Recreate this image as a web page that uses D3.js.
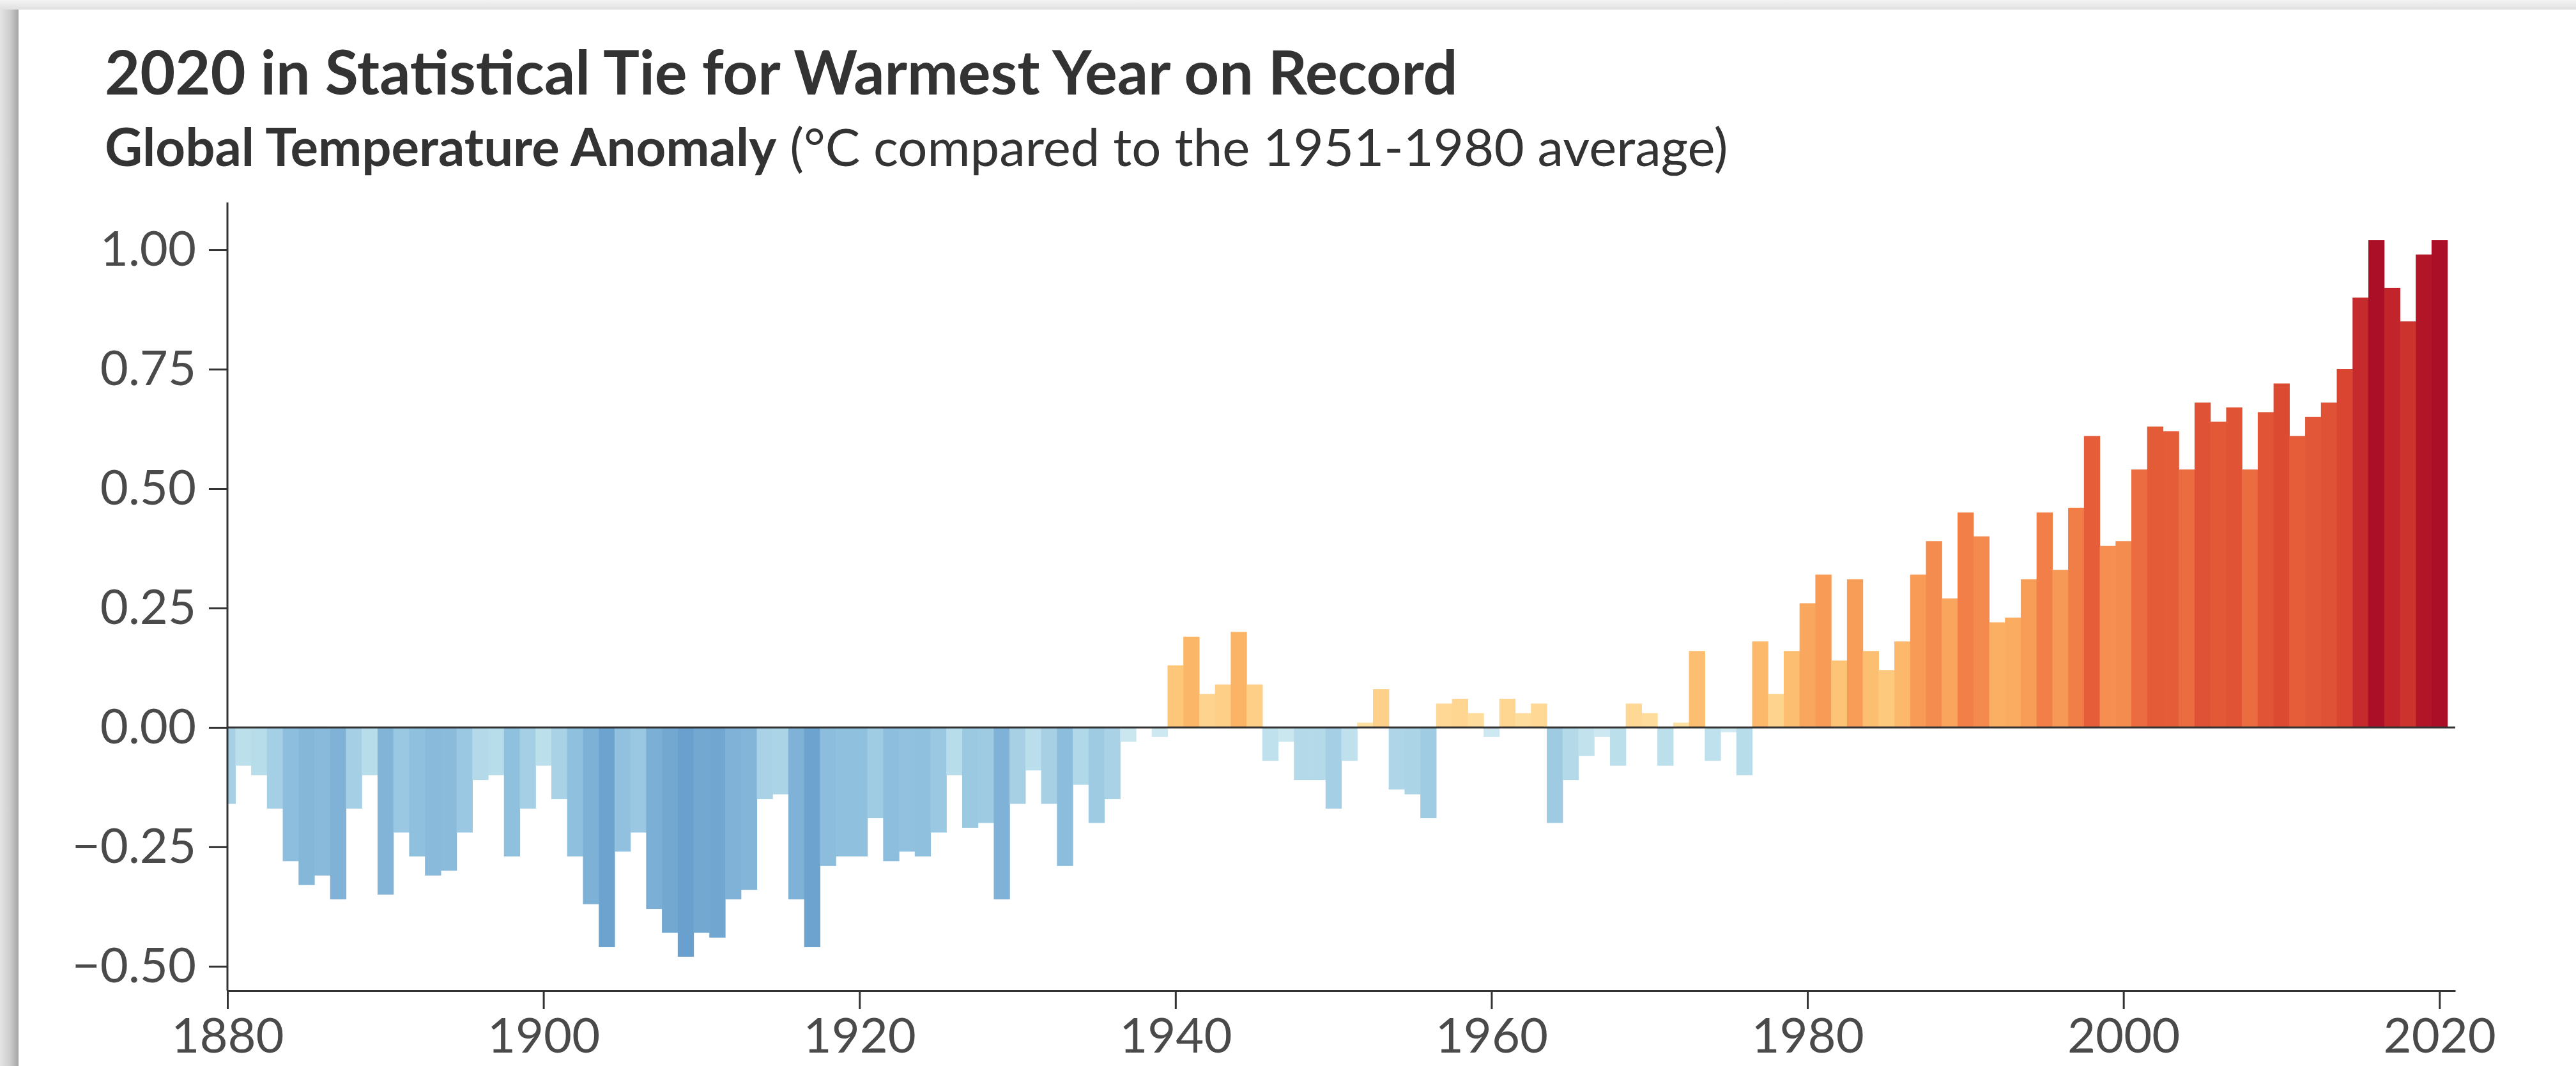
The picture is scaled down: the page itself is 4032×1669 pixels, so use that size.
<!DOCTYPE html>
<html>
<head>
<meta charset="utf-8">
<script src="https://cdn.jsdelivr.net/npm/d3@7"></script>
<style>
  html, body { margin: 0; padding: 0; background: #ffffff; }
  svg { display: block; }
</style>
</head>
<body>
<svg id="chart" width="4032" height="1669"></svg>
<script>
// ---------------- DATA ----------------
const firstYear = 1880;
// Global temperature anomaly (°C vs 1951-1980), one value per year 1880–2020
const anomalies = [
  -0.16, -0.08, -0.10, -0.17, -0.28, -0.33, -0.31, -0.36, -0.17, -0.10, // 1880s
  -0.35, -0.22, -0.27, -0.31, -0.30, -0.22, -0.11, -0.10, -0.27, -0.17, // 1890s
  -0.08, -0.15, -0.27, -0.37, -0.46, -0.26, -0.22, -0.38, -0.43, -0.48, // 1900s
  -0.43, -0.44, -0.36, -0.34, -0.15, -0.14, -0.36, -0.46, -0.29, -0.27, // 1910s
  -0.27, -0.19, -0.28, -0.26, -0.27, -0.22, -0.10, -0.21, -0.20, -0.36, // 1920s
  -0.16, -0.09, -0.16, -0.29, -0.12, -0.20, -0.15, -0.03,  0.00, -0.02, // 1930s
   0.13,  0.19,  0.07,  0.09,  0.20,  0.09, -0.07, -0.03, -0.11, -0.11, // 1940s
  -0.17, -0.07,  0.01,  0.08, -0.13, -0.14, -0.19,  0.05,  0.06,  0.03, // 1950s
  -0.02,  0.06,  0.03,  0.05, -0.20, -0.11, -0.06, -0.02, -0.08,  0.05, // 1960s
   0.03, -0.08,  0.01,  0.16, -0.07, -0.01, -0.10,  0.18,  0.07,  0.16, // 1970s
   0.26,  0.32,  0.14,  0.31,  0.16,  0.12,  0.18,  0.32,  0.39,  0.27, // 1980s
   0.45,  0.40,  0.22,  0.23,  0.31,  0.45,  0.33,  0.46,  0.61,  0.38, // 1990s
   0.39,  0.54,  0.63,  0.62,  0.54,  0.68,  0.64,  0.67,  0.54,  0.66, // 2000s
   0.72,  0.61,  0.65,  0.68,  0.75,  0.90,  1.02,  0.92,  0.85,  0.99, // 2010s
   1.02                                                                  // 2020
];
const years = anomalies.map((v, i) => firstYear + i);

const xTickValues = [1880, 1900, 1920, 1940, 1960, 1980, 2000, 2020];
const yTickValues = [-0.50, -0.25, 0.00, 0.25, 0.50, 0.75, 1.00];
const yTickLabels = ["\u22120.50", "\u22120.25", "0.00", "0.25", "0.50", "0.75", "1.00"];

const titleText = "2020 in Statistical Tie for Warmest Year on Record";
const subtitleBold = "Global Temperature Anomaly";
const subtitleRest = " (°C compared to the 1951-1980 average)";

// colour ramp (value → colour)
const colorStopValues = [-0.48, -0.36, -0.26, -0.15, -0.10, -0.001, 0.0, 0.07, 0.13, 0.20, 0.30, 0.45, 0.60, 0.75, 0.90, 1.02];
const colorStopColors = ["#69a0cd", "#80b2d7", "#91c1de", "#a9d2e6", "#b7dcea", "#d2ebf3",
                         "#fee3a6", "#fed38d", "#fdc77a", "#fbb365", "#f89f59", "#f27f48",
                         "#e7603a", "#d94530", "#c52a2c", "#ab0e27"];

// ---------------- LAYOUT ----------------
const W = 4032, H = 1669;
const plot = { left: 356, right: 3843, top: 317, bottom: 1551 };

const svg = d3.select("#chart");

// card frame / shadow
const defs = svg.append("defs");
const gl = defs.append("linearGradient").attr("id", "leftShadow").attr("x1", 0).attr("x2", 1).attr("y1", 0).attr("y2", 0);
gl.append("stop").attr("offset", "0%").attr("stop-color", "#e4e4e4");
gl.append("stop").attr("offset", "55%").attr("stop-color", "#cdcdcd");
gl.append("stop").attr("offset", "100%").attr("stop-color", "#a4a4a4");
const gt = defs.append("linearGradient").attr("id", "topShadow").attr("x1", 0).attr("x2", 0).attr("y1", 0).attr("y2", 1);
gt.append("stop").attr("offset", "0%").attr("stop-color", "#f3f3f3");
gt.append("stop").attr("offset", "100%").attr("stop-color", "#e0e0e0");

svg.append("rect").attr("x", 0).attr("y", 0).attr("width", W).attr("height", H).attr("fill", "#ffffff");
svg.append("rect").attr("x", 0).attr("y", 15).attr("width", 29).attr("height", H - 15).attr("fill", "url(#leftShadow)");
svg.append("rect").attr("x", 0).attr("y", 0).attr("width", W).attr("height", 15).attr("fill", "url(#topShadow)");

// ---------------- SCALES ----------------
const x = d3.scaleLinear().domain([1880, 2021]).range([plot.left, plot.right]);
const y = d3.scaleLinear().domain([-0.551, 1.099]).range([plot.bottom, plot.top]);
const color = d3.scaleLinear().domain(colorStopValues).range(colorStopColors).clamp(true);

// clip so the 1880 bar is cut by the y axis
defs.append("clipPath").attr("id", "plotClip")
  .append("rect").attr("x", plot.left).attr("y", 0).attr("width", plot.right - plot.left).attr("height", H);

// ---------------- BARS ----------------
const data = years.map((yr, i) => ({ year: yr, value: anomalies[i] }));
svg.append("g").attr("clip-path", "url(#plotClip)")
  .selectAll("rect").data(data).join("rect")
  .attr("x", d => x(d.year - 0.5))
  .attr("width", d => x(d.year + 0.5) - x(d.year - 0.5) + 0.6)
  .attr("y", d => Math.min(y(d.value), y(0)))
  .attr("height", d => Math.abs(y(d.value) - y(0)))
  .attr("fill", d => color(d.value));

// zero line
svg.append("line")
  .attr("x1", plot.left).attr("x2", plot.right)
  .attr("y1", y(0)).attr("y2", y(0))
  .attr("stroke", "#333").attr("stroke-width", 3);

// ---------------- AXES ----------------
const fontFamily = "Lato, 'Open Sans', 'DejaVu Sans', sans-serif";

const yAxis = d3.axisLeft(y)
  .tickValues(yTickValues)
  .tickFormat((d, i) => yTickLabels[i])
  .tickSize(29).tickSizeOuter(0).tickPadding(20);
const gy = svg.append("g").attr("transform", `translate(${plot.left},0)`).call(yAxis);

const xAxis = d3.axisBottom(x)
  .tickValues(xTickValues)
  .tickFormat(d3.format("d"))
  .tickSize(29).tickSizeOuter(0).tickPadding(14);
const gx = svg.append("g").attr("transform", `translate(0,${plot.bottom})`).call(xAxis);

[gx, gy].forEach(g => {
  g.select(".domain").attr("stroke", "#333").attr("stroke-width", 3);
  g.selectAll(".tick line").attr("stroke", "#333").attr("stroke-width", 3);
  g.selectAll(".tick text")
    .attr("fill", "#4a4a4a")
    .style("font-family", fontFamily)
    .style("font-size", "76px")
    .style("font-weight", 400);
});
// y axis domain should reach the top of the plot
gy.select(".domain").attr("d", `M0,${plot.top}V${plot.bottom}`);

// ---------------- TITLES ----------------
const title = svg.append("text")
  .attr("x", 164).attr("y", 148)
  .attr("fill", "#333")
  .style("font-family", fontFamily)
  .style("font-weight", 700)
  .style("font-size", "88px")
  .text(titleText);

const sub = svg.append("text")
  .attr("x", 164).attr("y", 260)
  .attr("fill", "#333")
  .style("font-family", fontFamily)
  .style("font-size", "76px");
sub.append("tspan").style("font-weight", 700).text(subtitleBold);
sub.append("tspan").style("font-weight", 400).text(subtitleRest);

// fit text widths to the reference layout
function fitWidth(sel, target, base) {
  const len = sel.node().getComputedTextLength();
  if (len > 0) {
    const fs = Math.max(base * 0.85, Math.min(base * 1.15, base * target / len));
    sel.style("font-size", fs + "px");
  }
}
fitWidth(title, 2118, 88);
fitWidth(sub, 2541, 76);
</script>
</body>
</html>
